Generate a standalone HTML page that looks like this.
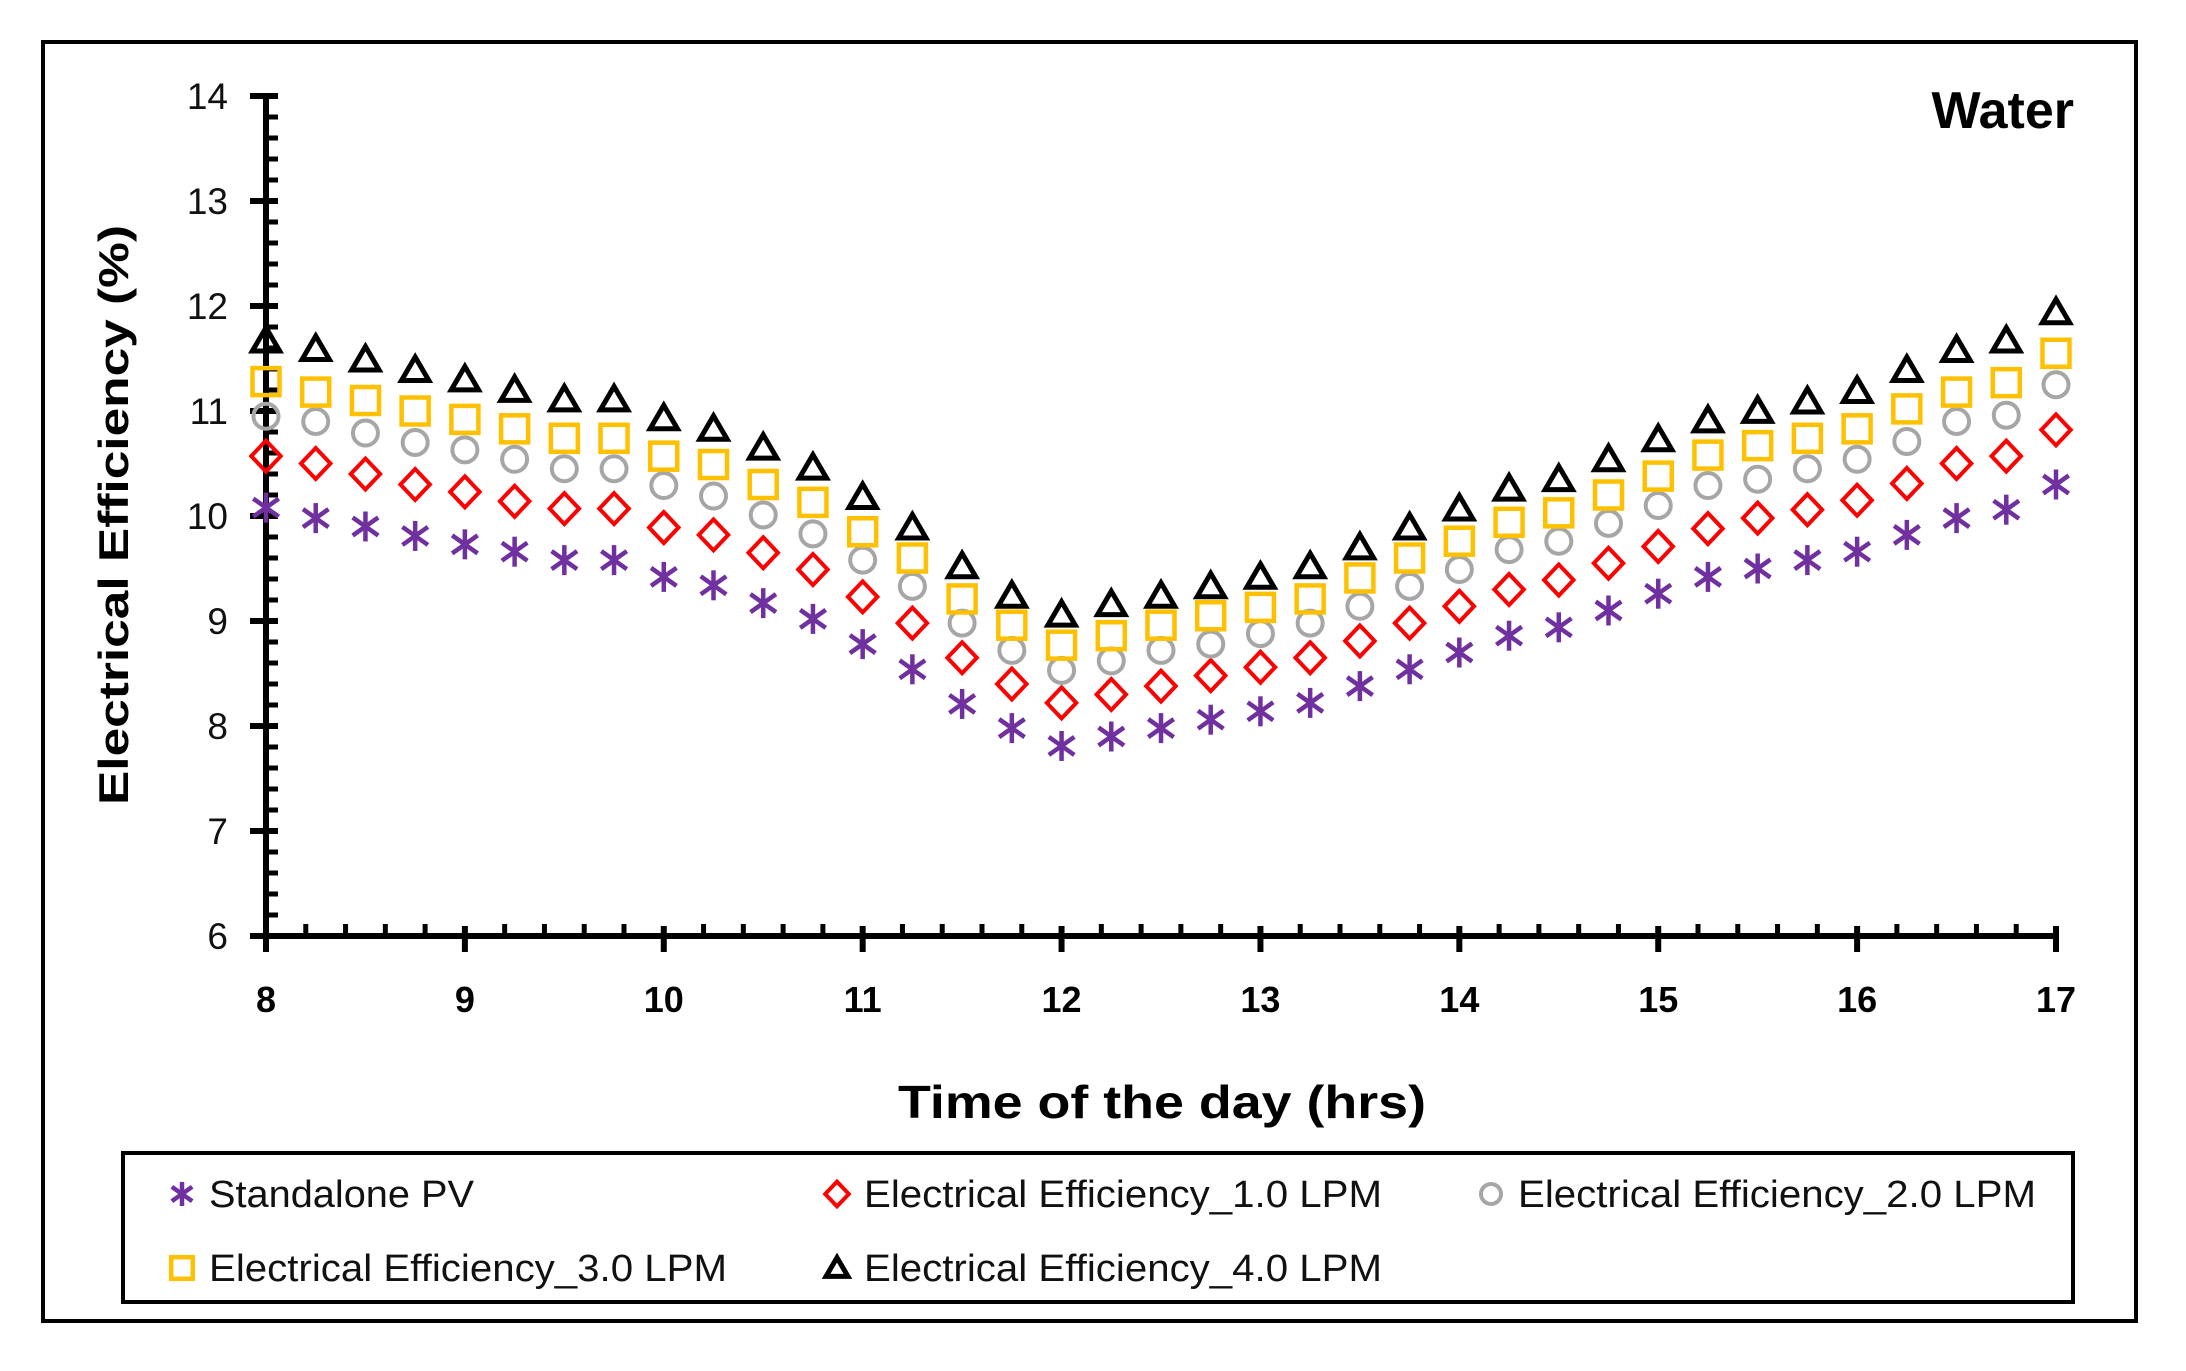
<!DOCTYPE html>
<html><head><meta charset="utf-8"><style>
html,body{margin:0;padding:0;background:#fff;}
svg{display:block;}
text{font-family:"Liberation Sans",sans-serif;}
</style></head><body>
<svg id="chart" width="2186" height="1371" viewBox="0 0 2186 1371" xmlns="http://www.w3.org/2000/svg">
<rect x="43" y="42" width="2093" height="1279" fill="none" stroke="#000" stroke-width="4"/>
<g id="plot"></g>
<text x="2074" y="128" text-anchor="end" font-size="52" font-weight="bold">Water</text>
<text transform="translate(128,515) rotate(-90)" text-anchor="middle" font-size="42" font-weight="bold" textLength="580" lengthAdjust="spacingAndGlyphs">Electrical Efficiency (%)</text>
<text x="1162" y="1118" text-anchor="middle" font-size="46" font-weight="bold" textLength="528" lengthAdjust="spacingAndGlyphs">Time of the day (hrs)</text>
<rect x="123" y="1153" width="1950" height="149" fill="none" stroke="#000" stroke-width="4"/>
<g id="legend"></g>
</svg>
<script>
const hours = [8,8.25,8.5,8.75,9,9.25,9.5,9.75,10,10.25,10.5,10.75,11,11.25,11.5,11.75,12,12.25,12.5,12.75,13,13.25,13.5,13.75,14,14.25,14.5,14.75,15,15.25,15.5,15.75,16,16.25,16.5,16.75,17];
const standalonePV = [10.08,9.98,9.9,9.81,9.73,9.66,9.58,9.58,9.42,9.34,9.17,9.02,8.78,8.54,8.21,7.98,7.81,7.9,7.98,8.06,8.14,8.22,8.38,8.54,8.7,8.86,8.94,9.1,9.26,9.42,9.5,9.58,9.66,9.82,9.98,10.06,10.3];
const eff1LPM = [10.57,10.5,10.4,10.3,10.23,10.14,10.07,10.07,9.89,9.82,9.65,9.49,9.23,8.98,8.65,8.4,8.22,8.3,8.38,8.48,8.56,8.65,8.81,8.98,9.14,9.3,9.39,9.55,9.71,9.88,9.98,10.06,10.15,10.31,10.5,10.57,10.82];
const eff2LPM = [10.95,10.9,10.79,10.7,10.63,10.54,10.45,10.45,10.29,10.19,10.01,9.83,9.58,9.33,8.98,8.72,8.53,8.62,8.72,8.78,8.88,8.98,9.14,9.33,9.49,9.68,9.76,9.93,10.1,10.29,10.35,10.45,10.54,10.71,10.9,10.96,11.25];
const eff3LPM = [11.28,11.18,11.1,11.0,10.92,10.83,10.74,10.74,10.57,10.49,10.3,10.13,9.85,9.6,9.21,8.96,8.77,8.86,8.96,9.05,9.13,9.21,9.41,9.6,9.76,9.94,10.03,10.2,10.38,10.58,10.67,10.74,10.83,11.02,11.18,11.27,11.55];
const eff4LPM = [11.67,11.59,11.49,11.39,11.3,11.2,11.11,11.11,10.93,10.83,10.65,10.46,10.18,9.89,9.52,9.24,9.06,9.16,9.24,9.33,9.42,9.52,9.7,9.89,10.07,10.26,10.35,10.54,10.73,10.91,11.0,11.09,11.19,11.39,11.58,11.67,11.94];
const xTickLabels = ["8","9","10","11","12","13","14","15","16","17"];
const yTickLabels = ["6","7","8","9","10","11","12","13","14"];

const NS = "http://www.w3.org/2000/svg";
const X0=266, X1=2056, Y0=936, Y1=96, XMIN=8, XMAX=17, YMIN=6, YMAX=14;
function xs(v){return X0+(v-XMIN)/(XMAX-XMIN)*(X1-X0);}
function ys(v){return Y0-(v-YMIN)/(YMAX-YMIN)*(Y0-Y1);}
function mk(tag, attrs, parent){const e=document.createElementNS(NS,tag);for(const k in attrs)e.setAttribute(k,attrs[k]);parent.appendChild(e);return e;}
const plot=document.getElementById('plot');

let ax=mk('line',{x1:X0,y1:Y1,x2:X0,y2:Y0,stroke:'#000','stroke-width':6},plot);


ax=mk('line',{x1:X0-3,y1:Y0,x2:X1+3,y2:Y0,stroke:'#000','stroke-width':6},plot);


for(let v=YMIN; v<=YMAX+1e-9; v+=0.2){
  const y=ys(v); const major=Math.abs(v-Math.round(v))<1e-6;
  const t=mk('line',{x1:major?X0-16:X0,y1:y,x2:X0+12,y2:y,stroke:'#000','stroke-width':major?6:5},plot);
  
  
}
yTickLabels.forEach(s=>{
  const t=mk('text',{x:228,y:ys(parseFloat(s))+13,'text-anchor':'end','font-size':37,fill:'#111'},plot);
  t.textContent=s;
  
  
});
for(let v=XMIN; v<=XMAX+1e-9; v+=0.2){
  const x=xs(v); const major=Math.abs(v-Math.round(v))<1e-6;
  const t=mk('line',{x1:x,y1:major?Y0-10:Y0-12,x2:x,y2:major?Y0+16:Y0,stroke:'#000','stroke-width':major?6:5},plot);
  
  
}
xTickLabels.forEach(s=>{
  const t=mk('text',{x:xs(parseFloat(s)),y:1012,'text-anchor':'middle','font-size':36,'font-weight':'bold'},plot);
  t.textContent=s;
  
  
});

function marker(type,cx,cy,parent,scale){
  scale=scale||1;
  const g=mk('g',{},parent);
  if(type==='star'){
    const c='#7030A0', r=15*scale;
    mk('line',{x1:cx,y1:cy-r,x2:cx,y2:cy+r,stroke:c,'stroke-width':4.5},g);
    mk('line',{x1:cx-r*0.85,y1:cy-r*0.6,x2:cx+r*0.85,y2:cy+r*0.6,stroke:c,'stroke-width':4.5},g);
    mk('line',{x1:cx-r*0.85,y1:cy+r*0.6,x2:cx+r*0.85,y2:cy-r*0.6,stroke:c,'stroke-width':4.5},g);
  } else if(type==='diamond'){
    const r=15.5*scale;
    mk('polygon',{points:`${cx},${cy-r} ${cx+r*0.95},${cy} ${cx},${cy+r} ${cx-r*0.95},${cy}`,fill:'none',stroke:'#FF0000','stroke-width':4},g);
  } else if(type==='circle'){
    mk('circle',{cx:cx,cy:cy,r:12.5*scale,fill:'none',stroke:'#A6A6A6','stroke-width':4},g);
  } else if(type==='square'){
    const h=13.5*scale;
    mk('rect',{x:cx-h,y:cy-h,width:2*h,height:2*h,fill:'none',stroke:'#FFC000','stroke-width':4.5},g);
  } else if(type==='triangle'){
    const h=13*scale;
    mk('polygon',{points:`${cx},${cy-h} ${cx+h*1.05},${cy+h*0.8} ${cx-h*1.05},${cy+h*0.8}`,fill:'none',stroke:'#000','stroke-width':5},g);
  }
  return g;
}
const series=[
  {name:'Standalone PV',data:standalonePV,type:'star',key:'standalone-pv'},
  {name:'Electrical Efficiency_1.0 LPM',data:eff1LPM,type:'diamond',key:'efficiency-1lpm'},
  {name:'Electrical Efficiency_2.0 LPM',data:eff2LPM,type:'circle',key:'efficiency-2lpm'},
  {name:'Electrical Efficiency_3.0 LPM',data:eff3LPM,type:'square',key:'efficiency-3lpm'},
  {name:'Electrical Efficiency_4.0 LPM',data:eff4LPM,type:'triangle',key:'efficiency-4lpm'}
];
series.forEach(s=>{
  const g=mk('g',{},plot);
  
  
  s.data.forEach((v,i)=>{
    const m=marker(s.type,xs(hours[i]),ys(v),g);
    
    
  });
});
const leg=document.getElementById('legend');
const legPos=[[182,1194],[837,1194],[1491,1194],[182,1268],[837,1268]];
const legW=[265,518,518,518,518];
series.forEach((s,i)=>{
  const g=mk('g',{},leg);
  
  
  marker(s.type,legPos[i][0],legPos[i][1],g,0.8);
  const t=mk('text',{x:legPos[i][0]+27,y:legPos[i][1]+13,'font-size':38,fill:'#111',textLength:legW[i],lengthAdjust:'spacingAndGlyphs'},g);
  t.textContent=s.name;
});
</script>
</body></html>
